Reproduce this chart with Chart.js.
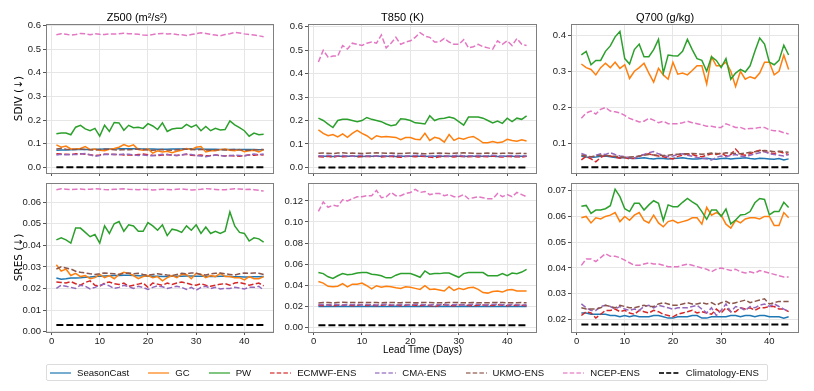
<!DOCTYPE html>
<html>
<head>
<meta charset="utf-8">
<script src="https://cdn.jsdelivr.net/npm/chart.js@4.4.1/dist/chart.umd.min.js"></script>
<style>
  body { margin: 0; background: #fff; }
  #wrap { position: relative; width: 814px; height: 391px; overflow: hidden; font-family: "Liberation Sans", Arial, sans-serif; }
  canvas { position: absolute; }
  #legend { position: absolute; left: 46px; top: 364px; width: 717px; height: 15px; border: 1px solid #dcdcdc; border-radius: 2px;
            display: flex; align-items: center; gap: 19px; padding-left: 3px; font-size: 9.6px; color: #111; box-sizing: content-box; }
  #legend .item { display: flex; align-items: center; white-space: nowrap; }
  #legend svg { margin-right: 6px; }
</style>
</head>
<body>
<div id="wrap">
  <canvas id="c1" width="280" height="183" style="left:0px;top:0px"></canvas>
  <canvas id="c2" width="275" height="183" style="left:268px;top:0px"></canvas>
  <canvas id="c3" width="274" height="183" style="left:531px;top:0px"></canvas>
  <canvas id="c4" width="280" height="185" style="left:0px;top:173px"></canvas>
  <canvas id="c5" width="275" height="185" style="left:268px;top:173px"></canvas>
  <canvas id="c6" width="274" height="185" style="left:531px;top:173px"></canvas>
  <div id="legend"></div>
</div>
<script>
// lead time (days)
const days = [1,2,3,4,5,6,7,8,9,10,11,12,13,14,15,16,17,18,19,20,21,22,23,24,25,26,27,28,29,30,31,32,33,34,35,36,37,38,39,40,41,42,43,44];
const day_ticks = [0, 10, 20, 30, 40];
const models = ["SeasonCast", "GC", "PW", "ECMWF-ENS", "CMA-ENS", "UKMO-ENS", "NCEP-ENS", "Climatology-ENS"];

// ---- Z500 SDIV ----
const z500_sdiv_sc = [0.072,0.073,0.073,0.074,0.075,0.075,0.076,0.076,0.077,0.077,0.078,
  0.078,0.078,0.079,0.079,0.079,0.079,0.078,0.078,0.078,0.078,0.077,
  0.077,0.077,0.078,0.078,0.078,0.079,0.079,0.078,0.078,0.077,0.077,
  0.077,0.076,0.076,0.076,0.076,0.075,0.075,0.075,0.075,0.074,0.074];
const z500_sdiv_gc = [0.095,0.085,0.090,0.078,0.078,0.080,0.088,0.075,0.078,0.072,0.070,
  0.076,0.080,0.085,0.096,0.088,0.095,0.075,0.072,0.078,0.060,0.070,
  0.065,0.068,0.062,0.068,0.072,0.080,0.075,0.085,0.088,0.065,0.070,
  0.070,0.075,0.078,0.072,0.070,0.075,0.066,0.070,0.072,0.065,0.075];
const z500_sdiv_pw = [0.142,0.145,0.145,0.138,0.170,0.178,0.163,0.155,0.165,0.132,0.178,
  0.152,0.190,0.188,0.157,0.178,0.168,0.170,0.165,0.185,0.175,0.160,
  0.188,0.152,0.162,0.165,0.165,0.182,0.170,0.180,0.155,0.173,0.155,
  0.165,0.158,0.160,0.197,0.180,0.168,0.155,0.132,0.145,0.138,0.140];
const z500_sdiv_ecmwf = [0.058,0.056,0.055,0.054,0.057,0.058,0.055,0.053,0.050,0.052,0.055,
  0.056,0.054,0.055,0.052,0.053,0.051,0.054,0.056,0.053,0.051,0.050,
  0.052,0.054,0.052,0.050,0.053,0.055,0.051,0.050,0.052,0.049,0.050,
  0.052,0.050,0.048,0.050,0.048,0.047,0.050,0.052,0.051,0.054,0.052];
const z500_sdiv_cma = [0.052,0.055,0.053,0.055,0.054,0.056,0.058,0.053,0.047,0.050,0.055,
  0.054,0.055,0.053,0.056,0.055,0.053,0.050,0.052,0.050,0.049,0.052,
  0.055,0.054,0.051,0.050,0.052,0.056,0.054,0.050,0.048,0.045,0.049,
  0.052,0.050,0.047,0.049,0.052,0.050,0.048,0.053,0.056,0.054,0.056];
const z500_sdiv_ukmo = [0.078,0.080,0.077,0.075,0.076,0.078,0.076,0.074,0.073,0.075,0.077,
  0.076,0.074,0.073,0.075,0.074,0.076,0.078,0.075,0.073,0.072,0.074,
  0.075,0.073,0.072,0.074,0.076,0.077,0.075,0.074,0.076,0.073,0.072,
  0.074,0.075,0.073,0.074,0.076,0.074,0.073,0.072,0.074,0.075,0.076];
const z500_sdiv_ncep = [0.561,0.566,0.563,0.560,0.562,0.567,0.566,0.561,0.566,0.563,0.562,
  0.565,0.564,0.566,0.568,0.566,0.565,0.563,0.560,0.559,0.562,0.566,
  0.567,0.565,0.566,0.562,0.561,0.558,0.562,0.566,0.570,0.567,0.563,
  0.560,0.557,0.562,0.566,0.571,0.569,0.565,0.562,0.560,0.557,0.553];
const z500_sdiv_clim = [0,0,0,0,0,0,0,0,0,0,0, 0,0,0,0,0,0,0,0,0,0,0,
  0,0,0,0,0,0,0,0,0,0,0, 0,0,0,0,0,0,0,0,0,0,0];
const z500_sdiv_ticks = [0, 0.1, 0.2, 0.3, 0.4, 0.5, 0.6];

// ---- T850 SDIV ----
const t850_sdiv_sc = [0.046,0.047,0.047,0.046,0.047,0.047,0.048,0.047,0.047,0.046,0.047,
  0.047,0.047,0.048,0.047,0.047,0.046,0.047,0.047,0.047,0.048,0.047,
  0.047,0.046,0.047,0.047,0.048,0.047,0.047,0.047,0.046,0.047,0.047,
  0.047,0.048,0.047,0.047,0.046,0.047,0.047,0.047,0.046,0.047,0.047];
const t850_sdiv_gc = [0.160,0.145,0.135,0.140,0.130,0.143,0.128,0.145,0.158,0.145,0.135,
  0.120,0.135,0.130,0.132,0.130,0.128,0.118,0.127,0.127,0.120,0.118,
  0.145,0.115,0.128,0.123,0.108,0.140,0.115,0.125,0.120,0.128,0.132,
  0.120,0.105,0.105,0.110,0.105,0.108,0.120,0.115,0.112,0.118,0.113];
const t850_sdiv_pw = [0.210,0.200,0.185,0.170,0.200,0.205,0.205,0.200,0.195,0.200,0.213,
  0.205,0.200,0.195,0.185,0.178,0.182,0.207,0.205,0.200,0.190,0.188,
  0.185,0.220,0.200,0.208,0.210,0.215,0.210,0.195,0.180,0.215,0.215,
  0.215,0.210,0.200,0.190,0.198,0.188,0.210,0.195,0.210,0.205,0.220];
const t850_sdiv_ecmwf = [0.046,0.044,0.047,0.043,0.048,0.045,0.046,0.049,0.044,0.046,0.047,
  0.045,0.048,0.044,0.046,0.047,0.045,0.043,0.046,0.048,0.045,0.047,
  0.046,0.044,0.041,0.045,0.047,0.046,0.044,0.048,0.046,0.045,0.047,
  0.044,0.046,0.045,0.048,0.046,0.044,0.047,0.045,0.046,0.044,0.047];
const t850_sdiv_cma = [0.050,0.049,0.052,0.048,0.050,0.051,0.049,0.047,0.050,0.052,0.049,
  0.050,0.048,0.051,0.049,0.050,0.052,0.049,0.048,0.050,0.051,0.053,
  0.050,0.048,0.049,0.051,0.050,0.048,0.050,0.052,0.049,0.050,0.048,
  0.051,0.049,0.050,0.052,0.049,0.048,0.050,0.051,0.049,0.050,0.048];
const t850_sdiv_ukmo = [0.060,0.061,0.060,0.059,0.061,0.062,0.060,0.061,0.060,0.059,0.060,
  0.061,0.062,0.061,0.060,0.061,0.060,0.059,0.060,0.061,0.060,0.059,
  0.058,0.059,0.060,0.061,0.060,0.059,0.060,0.061,0.062,0.061,0.060,
  0.059,0.060,0.061,0.060,0.059,0.060,0.061,0.060,0.059,0.060,0.059];
const t850_sdiv_ncep = [0.450,0.500,0.470,0.475,0.475,0.520,0.505,0.530,0.525,0.520,0.530,
  0.535,0.530,0.565,0.510,0.530,0.555,0.525,0.535,0.540,0.555,0.575,
  0.560,0.555,0.535,0.535,0.550,0.535,0.525,0.525,0.545,0.510,0.515,
  0.525,0.515,0.510,0.505,0.540,0.525,0.540,0.520,0.550,0.525,0.520];
const t850_sdiv_clim = [0,0,0,0,0,0,0,0,0,0,0, 0,0,0,0,0,0,0,0,0,0,0,
  0,0,0,0,0,0,0,0,0,0,0, 0,0,0,0,0,0,0,0,0,0,0];
const t850_sdiv_ticks = [0, 0.1, 0.2, 0.3, 0.4, 0.5, 0.6];

// ---- Q700 SDIV ----
const q700_sdiv_sc = [0.065,0.063,0.062,0.063,0.065,0.066,0.064,0.062,0.061,0.062,0.060,
  0.059,0.060,0.061,0.059,0.058,0.060,0.059,0.058,0.059,0.060,0.061,
  0.059,0.058,0.058,0.059,0.060,0.058,0.057,0.059,0.060,0.058,0.059,
  0.060,0.061,0.059,0.058,0.060,0.059,0.058,0.057,0.059,0.055,0.058];
const q700_sdiv_gc = [0.320,0.310,0.305,0.290,0.310,0.322,0.310,0.325,0.308,0.318,0.280,
  0.300,0.310,0.322,0.295,0.270,0.308,0.290,0.278,0.325,0.292,0.295,
  0.290,0.302,0.315,0.315,0.265,0.340,0.315,0.315,0.325,0.300,0.258,
  0.300,0.278,0.285,0.280,0.295,0.325,0.325,0.290,0.300,0.345,0.305];
const q700_sdiv_pw = [0.345,0.355,0.318,0.330,0.330,0.355,0.370,0.395,0.410,0.335,0.320,
  0.360,0.375,0.340,0.340,0.360,0.388,0.295,0.345,0.343,0.342,0.355,
  0.388,0.360,0.335,0.330,0.300,0.340,0.330,0.310,0.335,0.278,0.295,
  0.305,0.298,0.315,0.355,0.392,0.375,0.325,0.318,0.330,0.372,0.345];
const q700_sdiv_ecmwf = [0.055,0.065,0.058,0.050,0.062,0.068,0.066,0.063,0.060,0.062,0.058,
  0.060,0.065,0.070,0.072,0.068,0.066,0.064,0.060,0.058,0.065,0.068,
  0.072,0.070,0.066,0.064,0.068,0.072,0.070,0.074,0.066,0.070,0.085,
  0.070,0.068,0.072,0.078,0.082,0.078,0.075,0.072,0.078,0.074,0.070];
const q700_sdiv_cma = [0.073,0.068,0.062,0.068,0.072,0.070,0.075,0.070,0.066,0.064,0.062,
  0.060,0.066,0.070,0.075,0.078,0.072,0.068,0.064,0.066,0.070,0.072,
  0.068,0.065,0.062,0.060,0.058,0.055,0.062,0.066,0.064,0.068,0.070,
  0.066,0.064,0.068,0.072,0.075,0.078,0.072,0.070,0.068,0.066,0.070];
const q700_sdiv_ukmo = [0.068,0.066,0.064,0.066,0.068,0.067,0.066,0.065,0.064,0.062,0.063,
  0.064,0.066,0.068,0.070,0.069,0.068,0.067,0.068,0.070,0.071,0.072,
  0.072,0.073,0.072,0.071,0.072,0.074,0.073,0.072,0.075,0.074,0.073,
  0.072,0.074,0.076,0.078,0.080,0.081,0.080,0.078,0.079,0.078,0.076];
const q700_sdiv_ncep = [0.170,0.185,0.190,0.182,0.195,0.200,0.190,0.188,0.185,0.178,0.170,
  0.165,0.160,0.162,0.170,0.165,0.158,0.162,0.155,0.155,0.155,0.158,
  0.162,0.158,0.155,0.152,0.148,0.148,0.145,0.145,0.155,0.150,0.145,
  0.145,0.140,0.142,0.142,0.145,0.145,0.138,0.136,0.135,0.130,0.127];
const q700_sdiv_clim = [0.035,0.035,0.035,0.035,0.035,0.035,0.035,0.035,0.035,0.035,0.035,
  0.035,0.035,0.035,0.035,0.035,0.035,0.035,0.035,0.035,0.035,0.035,
  0.035,0.035,0.035,0.035,0.035,0.035,0.035,0.035,0.035,0.035,0.035,
  0.035,0.035,0.035,0.035,0.035,0.035,0.035,0.035,0.035,0.035,0.035];
const q700_sdiv_ticks = [0.1, 0.2, 0.3, 0.4];

// ---- Z500 SRES ----
const z500_sres_sc = [0.0248,0.0243,0.0245,0.0248,0.0249,0.0250,0.0252,0.0253,0.0255,0.0257,0.0258,
  0.0259,0.0260,0.0260,0.0261,0.0261,0.0260,0.0259,0.0258,0.0257,0.0256,0.0256,
  0.0255,0.0255,0.0256,0.0257,0.0257,0.0258,0.0258,0.0257,0.0256,0.0256,0.0255,
  0.0255,0.0256,0.0256,0.0255,0.0254,0.0254,0.0253,0.0253,0.0254,0.0254,0.0255];
const z500_sres_gc = [0.0310,0.0280,0.0290,0.0260,0.0270,0.0255,0.0260,0.0245,0.0250,0.0265,0.0250,
  0.0260,0.0245,0.0265,0.0275,0.0270,0.0260,0.0245,0.0255,0.0260,0.0250,0.0255,
  0.0235,0.0250,0.0260,0.0250,0.0265,0.0265,0.0245,0.0270,0.0265,0.0250,0.0260,
  0.0255,0.0270,0.0255,0.0255,0.0250,0.0250,0.0240,0.0255,0.0245,0.0245,0.0255];
const z500_sres_pw = [0.0425,0.0435,0.0425,0.0410,0.0480,0.0480,0.0460,0.0440,0.0450,0.0410,0.0490,
  0.0455,0.0500,0.0510,0.0465,0.0495,0.0490,0.0465,0.0465,0.0505,0.0490,0.0470,
  0.0495,0.0445,0.0475,0.0470,0.0460,0.0490,0.0470,0.0495,0.0455,0.0485,0.0455,
  0.0465,0.0455,0.0465,0.0555,0.0490,0.0460,0.0455,0.0420,0.0435,0.0430,0.0415];
const z500_sres_ecmwf = [0.0230,0.0228,0.0225,0.0232,0.0222,0.0215,0.0228,0.0235,0.0215,0.0210,0.0225,
  0.0230,0.0222,0.0218,0.0225,0.0210,0.0215,0.0220,0.0225,0.0205,0.0225,0.0220,
  0.0215,0.0225,0.0218,0.0225,0.0230,0.0225,0.0218,0.0215,0.0222,0.0215,0.0210,
  0.0215,0.0220,0.0222,0.0215,0.0225,0.0228,0.0222,0.0215,0.0220,0.0225,0.0212];
const z500_sres_cma = [0.0200,0.0215,0.0210,0.0205,0.0200,0.0215,0.0210,0.0198,0.0205,0.0215,0.0220,
  0.0212,0.0200,0.0205,0.0215,0.0208,0.0200,0.0210,0.0205,0.0195,0.0205,0.0212,
  0.0208,0.0200,0.0205,0.0210,0.0205,0.0195,0.0205,0.0192,0.0205,0.0210,0.0200,
  0.0205,0.0198,0.0200,0.0200,0.0205,0.0202,0.0198,0.0205,0.0205,0.0210,0.0192];
const z500_sres_ukmo = [0.0290,0.0300,0.0295,0.0290,0.0280,0.0275,0.0272,0.0268,0.0265,0.0268,0.0272,
  0.0270,0.0268,0.0265,0.0270,0.0272,0.0268,0.0270,0.0265,0.0262,0.0265,0.0268,
  0.0265,0.0262,0.0260,0.0265,0.0270,0.0268,0.0272,0.0270,0.0265,0.0262,0.0268,
  0.0270,0.0272,0.0268,0.0265,0.0262,0.0268,0.0272,0.0270,0.0272,0.0270,0.0265];
const z500_sres_ncep = [0.0658,0.0662,0.0660,0.0658,0.0660,0.0661,0.0659,0.0660,0.0662,0.0661,0.0659,
  0.0658,0.0660,0.0661,0.0662,0.0660,0.0659,0.0658,0.0660,0.0659,0.0657,0.0658,
  0.0660,0.0659,0.0658,0.0660,0.0661,0.0659,0.0657,0.0658,0.0660,0.0663,0.0661,
  0.0659,0.0657,0.0658,0.0660,0.0662,0.0661,0.0659,0.0660,0.0658,0.0655,0.0652];
const z500_sres_clim = [0.003,0.003,0.003,0.003,0.003,0.003,0.003,0.003,0.003,0.003,0.003,
  0.003,0.003,0.003,0.003,0.003,0.003,0.003,0.003,0.003,0.003,0.003,
  0.003,0.003,0.003,0.003,0.003,0.003,0.003,0.003,0.003,0.003,0.003,
  0.003,0.003,0.003,0.003,0.003,0.003,0.003,0.003,0.003,0.003,0.003];
const z500_sres_ticks = [0, 0.01, 0.02, 0.03, 0.04, 0.05, 0.06];

// ---- T850 SRES ----
const t850_sres_sc = [0.0198,0.0199,0.0198,0.0199,0.0200,0.0199,0.0199,0.0200,0.0199,0.0198,0.0199,
  0.0200,0.0199,0.0199,0.0198,0.0199,0.0200,0.0199,0.0198,0.0199,0.0199,0.0200,
  0.0199,0.0198,0.0199,0.0199,0.0200,0.0199,0.0199,0.0198,0.0199,0.0200,0.0199,
  0.0199,0.0198,0.0199,0.0200,0.0199,0.0199,0.0198,0.0199,0.0199,0.0198,0.0199];
const t850_sres_gc = [0.0435,0.0420,0.0390,0.0385,0.0390,0.0415,0.0385,0.0410,0.0410,0.0420,0.0395,
  0.0365,0.0395,0.0380,0.0390,0.0385,0.0375,0.0370,0.0385,0.0380,0.0370,0.0360,
  0.0395,0.0360,0.0365,0.0355,0.0345,0.0385,0.0350,0.0370,0.0360,0.0375,0.0380,
  0.0360,0.0330,0.0325,0.0340,0.0345,0.0335,0.0355,0.0360,0.0345,0.0345,0.0345];
const t850_sres_pw = [0.0520,0.0510,0.0480,0.0465,0.0490,0.0510,0.0500,0.0505,0.0515,0.0520,0.0520,
  0.0505,0.0500,0.0490,0.0470,0.0470,0.0495,0.0510,0.0510,0.0510,0.0495,0.0475,
  0.0535,0.0505,0.0510,0.0510,0.0515,0.0515,0.0495,0.0475,0.0510,0.0520,0.0520,
  0.0520,0.0520,0.0490,0.0490,0.0490,0.0510,0.0490,0.0515,0.0510,0.0525,0.0550];
const t850_sres_ecmwf = [0.0210,0.0205,0.0215,0.0200,0.0212,0.0208,0.0215,0.0205,0.0210,0.0215,0.0208,
  0.0212,0.0205,0.0210,0.0215,0.0208,0.0212,0.0205,0.0210,0.0215,0.0210,0.0205,
  0.0212,0.0208,0.0195,0.0210,0.0215,0.0208,0.0205,0.0212,0.0215,0.0208,0.0205,
  0.0210,0.0212,0.0205,0.0208,0.0215,0.0210,0.0205,0.0212,0.0208,0.0210,0.0205];
const t850_sres_cma = [0.0215,0.0218,0.0212,0.0220,0.0215,0.0212,0.0218,0.0215,0.0220,0.0212,0.0218,
  0.0215,0.0212,0.0218,0.0220,0.0215,0.0212,0.0218,0.0215,0.0212,0.0220,0.0218,
  0.0215,0.0212,0.0218,0.0215,0.0220,0.0212,0.0215,0.0218,0.0212,0.0215,0.0220,
  0.0218,0.0212,0.0215,0.0218,0.0220,0.0215,0.0212,0.0218,0.0215,0.0212,0.0215];
const t850_sres_ukmo = [0.0232,0.0235,0.0236,0.0234,0.0236,0.0238,0.0237,0.0236,0.0235,0.0236,0.0237,
  0.0236,0.0235,0.0234,0.0236,0.0237,0.0235,0.0234,0.0236,0.0235,0.0234,0.0235,
  0.0236,0.0235,0.0234,0.0233,0.0234,0.0235,0.0236,0.0235,0.0234,0.0233,0.0235,
  0.0234,0.0233,0.0234,0.0235,0.0236,0.0235,0.0234,0.0233,0.0234,0.0235,0.0234];
const t850_sres_ncep = [0.1100,0.1190,0.1140,0.1160,0.1150,0.1210,0.1200,0.1220,0.1240,0.1240,0.1250,
  0.1250,0.1300,0.1230,0.1240,0.1280,0.1250,0.1250,0.1270,0.1280,0.1310,0.1280,
  0.1290,0.1260,0.1270,0.1270,0.1250,0.1260,0.1240,0.1240,0.1260,0.1220,0.1230,
  0.1240,0.1230,0.1220,0.1220,0.1270,0.1240,0.1260,0.1240,0.1280,0.1260,0.1240];
const t850_sres_clim = [0.002,0.002,0.002,0.002,0.002,0.002,0.002,0.002,0.002,0.002,0.002,
  0.002,0.002,0.002,0.002,0.002,0.002,0.002,0.002,0.002,0.002,0.002,
  0.002,0.002,0.002,0.002,0.002,0.002,0.002,0.002,0.002,0.002,0.002,
  0.002,0.002,0.002,0.002,0.002,0.002,0.002,0.002,0.002,0.002,0.002];
const t850_sres_ticks = [0, 0.02, 0.04, 0.06, 0.08, 0.10, 0.12];

// ---- Q700 SRES ----
const q700_sres_sc = [0.0225,0.0225,0.0220,0.0220,0.0220,0.0220,0.0215,0.0215,0.0210,0.0215,0.0210,
  0.0215,0.0210,0.0210,0.0210,0.0215,0.0215,0.0210,0.0205,0.0205,0.0210,0.0210,
  0.0210,0.0215,0.0215,0.0205,0.0205,0.0210,0.0210,0.0210,0.0210,0.0215,0.0215,
  0.0210,0.0215,0.0215,0.0210,0.0215,0.0215,0.0210,0.0210,0.0210,0.0205,0.0210];
const q700_sres_gc = [0.0595,0.0600,0.0575,0.0595,0.0590,0.0600,0.0605,0.0615,0.0580,0.0600,0.0585,
  0.0605,0.0615,0.0585,0.0575,0.0605,0.0575,0.0560,0.0580,0.0585,0.0575,0.0580,
  0.0585,0.0595,0.0595,0.0570,0.0635,0.0605,0.0615,0.0605,0.0570,0.0555,0.0585,
  0.0575,0.0590,0.0595,0.0595,0.0590,0.0600,0.0600,0.0565,0.0565,0.0615,0.0595];
const q700_sres_pw = [0.0640,0.0643,0.0612,0.0625,0.0625,0.0630,0.0642,0.0706,0.0677,0.0630,0.0619,
  0.0651,0.0651,0.0625,0.0645,0.0661,0.0651,0.0584,0.0645,0.0638,0.0638,0.0655,
  0.0670,0.0657,0.0645,0.0619,0.0589,0.0625,0.0625,0.0600,0.0629,0.0571,0.0586,
  0.0606,0.0608,0.0619,0.0653,0.0670,0.0666,0.0606,0.0619,0.0619,0.0655,0.0635];
const q700_sres_ecmwf = [0.0215,0.0230,0.0225,0.0205,0.0220,0.0235,0.0235,0.0240,0.0230,0.0235,0.0225,
  0.0220,0.0235,0.0230,0.0225,0.0235,0.0230,0.0220,0.0215,0.0210,0.0220,0.0225,
  0.0230,0.0235,0.0225,0.0230,0.0225,0.0220,0.0240,0.0225,0.0245,0.0230,0.0230,
  0.0245,0.0240,0.0245,0.0235,0.0245,0.0245,0.0250,0.0250,0.0240,0.0240,0.0230];
const q700_sres_cma = [0.0260,0.0245,0.0235,0.0235,0.0250,0.0255,0.0250,0.0240,0.0250,0.0240,0.0235,
  0.0240,0.0235,0.0250,0.0255,0.0245,0.0255,0.0250,0.0245,0.0240,0.0245,0.0245,
  0.0245,0.0250,0.0255,0.0240,0.0225,0.0245,0.0215,0.0235,0.0260,0.0230,0.0250,
  0.0245,0.0235,0.0250,0.0245,0.0255,0.0260,0.0250,0.0260,0.0250,0.0240,0.0230];
const q700_sres_ukmo = [0.0245,0.0240,0.0240,0.0240,0.0245,0.0255,0.0250,0.0245,0.0255,0.0250,0.0245,
  0.0245,0.0250,0.0255,0.0250,0.0250,0.0260,0.0265,0.0260,0.0255,0.0255,0.0260,
  0.0265,0.0260,0.0260,0.0265,0.0260,0.0265,0.0255,0.0265,0.0270,0.0260,0.0265,
  0.0270,0.0275,0.0265,0.0270,0.0275,0.0280,0.0260,0.0265,0.0270,0.0270,0.0270];
const q700_sres_ncep = [0.0410,0.0435,0.0435,0.0425,0.0440,0.0455,0.0445,0.0445,0.0440,0.0430,0.0420,
  0.0410,0.0410,0.0415,0.0420,0.0415,0.0415,0.0410,0.0405,0.0405,0.0405,0.0410,
  0.0415,0.0410,0.0405,0.0400,0.0395,0.0385,0.0395,0.0400,0.0395,0.0390,0.0395,
  0.0385,0.0380,0.0385,0.0380,0.0390,0.0385,0.0380,0.0375,0.0370,0.0365,0.0365];
const q700_sres_clim = [0.018,0.018,0.018,0.018,0.018,0.018,0.018,0.018,0.018,0.018,0.018,
  0.018,0.018,0.018,0.018,0.018,0.018,0.018,0.018,0.018,0.018,0.018,
  0.018,0.018,0.018,0.018,0.018,0.018,0.018,0.018,0.018,0.018,0.018,
  0.018,0.018,0.018,0.018,0.018,0.018,0.018,0.018,0.018,0.018,0.018];
const q700_sres_ticks = [0.02, 0.03, 0.04, 0.05, 0.06, 0.07];

// styling
const colors = ["#1f77b4", "#ff7f0e", "#2ca02c", "#d62728", "#9467bd", "#8c564b", "#e377c2", "#000000"];
const dashes = [[], [], [], [5.5, 2.4], [5.5, 2.4], [5.5, 2.4], [5.5, 2.4], [7, 3]];
const FONT = "'Liberation Sans', Arial, sans-serif";
Chart.defaults.font.family = FONT;

const framePlugin = {
  id: "frame",
  afterDraw(chart) {
    const a = chart.chartArea, ctx = chart.ctx;
    ctx.save();
    ctx.strokeStyle = "#7f7f7f";
    ctx.lineWidth = 1;
    ctx.strokeRect(Math.round(a.left) + 0.5, Math.round(a.top) + 0.5,
      Math.round(a.right - a.left) - 1, Math.round(a.bottom - a.top));
    ctx.restore();
  }
};

function panel(id, series, yTicks, yMin, yMax, o) {
  const datasets = series.map((vals, i) => ({
    label: models[i],
    data: days.map((d, k) => ({ x: d, y: vals[k] })),
    borderColor: colors[i],
    backgroundColor: colors[i],
    borderWidth: i === 7 ? 2 : 1.5,
    borderDash: dashes[i],
    pointRadius: 0,
    tension: 0,
    fill: false,
    order: 7 - i
  }));
  return new Chart(document.getElementById(id), {
    type: "line",
    data: { datasets: datasets },
    options: {
      responsive: false,
      animation: false,
      layout: { padding: { top: o.top ? 0 : 10, right: 6, left: 0, bottom: 0 } },
      plugins: {
        legend: { display: false },
        tooltip: { enabled: false },
        title: {
          display: !!o.title, text: o.title || "", color: "#000",
          font: { size: 11, weight: "normal" }, padding: { top: 11, bottom: 0 }
        }
      },
      scales: {
        x: {
          type: "linear", min: -1.15, max: 46.15,
          afterBuildTicks: s => { s.ticks = day_ticks.map(v => ({ value: v })); },
          afterFit: s => { s.height = o.top ? 10 : 26; },
          grid: { color: "#e6e6e6", tickColor: "#555", tickLength: 3 },
          border: { display: false },
          ticks: { display: !o.top, color: "#222", font: { size: 9.5 }, padding: 1, maxRotation: 0 },
          title: {
            display: !!o.xTitle, text: o.xTitle || "", color: "#000",
            font: { size: 10 }, padding: { top: 0, bottom: 2 }
          }
        },
        y: {
          min: yMin, max: yMax,
          afterBuildTicks: s => { s.ticks = yTicks.map(v => ({ value: v })); },
          afterFit: s => { s.width = o.yTitle ? 46 : 40; },
          grid: { color: "#e6e6e6", tickColor: "#555", tickLength: 3 },
          border: { display: false },
          ticks: { color: "#222", font: { size: 9.5 }, padding: 2, callback: v => v.toFixed(o.dec) },
          title: {
            display: !!o.yTitle, text: o.yTitle || "", color: "#000",
            font: { size: 10.5, family: "'DejaVu Sans', 'Liberation Sans', sans-serif" }, padding: { top: 13, bottom: 0 }
          }
        }
      }
    },
    plugins: [framePlugin]
  });
}

panel("c1", [z500_sdiv_sc, z500_sdiv_gc, z500_sdiv_pw, z500_sdiv_ecmwf, z500_sdiv_cma, z500_sdiv_ukmo, z500_sdiv_ncep, z500_sdiv_clim],
  z500_sdiv_ticks, -0.024, 0.606, { top: true, title: "Z500 (m²/s²)", yTitle: "SDIV (↓)", dec: 1 });
panel("c2", [t850_sdiv_sc, t850_sdiv_gc, t850_sdiv_pw, t850_sdiv_ecmwf, t850_sdiv_cma, t850_sdiv_ukmo, t850_sdiv_ncep, t850_sdiv_clim],
  t850_sdiv_ticks, -0.024, 0.611, { top: true, title: "T850 (K)", dec: 1 });
panel("c3", [q700_sdiv_sc, q700_sdiv_gc, q700_sdiv_pw, q700_sdiv_ecmwf, q700_sdiv_cma, q700_sdiv_ukmo, q700_sdiv_ncep, q700_sdiv_clim],
  q700_sdiv_ticks, 0.019, 0.430, { top: true, title: "Q700 (g/kg)", dec: 1 });
panel("c4", [z500_sres_sc, z500_sres_gc, z500_sres_pw, z500_sres_ecmwf, z500_sres_cma, z500_sres_ukmo, z500_sres_ncep, z500_sres_clim],
  z500_sres_ticks, -0.0002, 0.0689, { yTitle: "SRES (↓)", dec: 2 });
panel("c5", [t850_sres_sc, t850_sres_gc, t850_sres_pw, t850_sres_ecmwf, t850_sres_cma, t850_sres_ukmo, t850_sres_ncep, t850_sres_clim],
  t850_sres_ticks, -0.0044, 0.137, { xTitle: "Lead Time (Days)", dec: 2 });
panel("c6", [q700_sres_sc, q700_sres_gc, q700_sres_pw, q700_sres_ecmwf, q700_sres_cma, q700_sres_ukmo, q700_sres_ncep, q700_sres_clim],
  q700_sres_ticks, 0.0151, 0.073, { dec: 2 });

// legend
const legend = document.getElementById("legend");
models.forEach((m, i) => {
  const dash = dashes[i].length ? `stroke-dasharray="${i === 7 ? "5 2.2" : "4.5 2.2"}"` : "";
  const item = document.createElement("div");
  item.className = "item";
  item.innerHTML = `<svg width="21" height="6"><line x1="0" y1="3" x2="21" y2="3" stroke="${colors[i]}" stroke-opacity="0.8" stroke-width="${i === 7 ? 2 : 1.5}" ${dash}/></svg><span>${m}</span>`;
  legend.appendChild(item);
});
</script>
</body>
</html>
